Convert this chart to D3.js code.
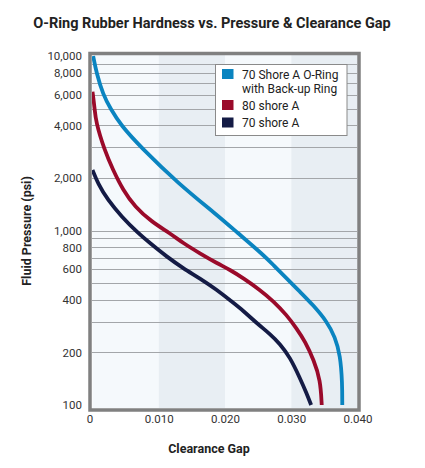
<!DOCTYPE html>
<html>
<head>
<meta charset="utf-8">
<script src="https://cdn.jsdelivr.net/npm/d3@7"></script>
<style>
  html, body { margin: 0; padding: 0; background: #fff; }
  svg { display: block; font-family: Roboto, "Noto Sans", sans-serif; }
</style>
</head>
<body>
<div id="chart"></div>
<script>
'use strict';

// Chart data
var seriesNames = ['70 Shore A O-Ring|with Back-up Ring', '80 shore A', '70 shore A'];
var seriesColors = ['#0a84c0', '#9a0a2a', '#141b45'];

// 70 Shore A O-Ring with Back-up Ring
var backupGap = [0.0001, 0.0006, 0.0016, 0.0027, 0.0043, 0.0073, 0.0129, 0.0188, 0.0217, 0.0258, 0.0273, 0.0293, 0.0313, 0.0333, 0.0354, 0.0366, 0.0374, 0.0377, 0.0377];
var backupPressure = [10000, 8000, 6000, 5000, 4000, 3000, 1865, 1227, 984, 724, 634, 532, 446, 374, 300, 246, 193, 134, 100];

// 80 shore A
var shore80Gap = [0.0000, 0.0003, 0.0005, 0.0018, 0.0031, 0.0046, 0.0064, 0.0089, 0.0117, 0.0137, 0.0162, 0.0188, 0.0208, 0.0228, 0.0253, 0.0273, 0.0293, 0.0308, 0.0321, 0.0334, 0.0344, 0.0346];
var shore80Pressure = [6237, 5103, 4185, 2893, 2222, 1707, 1369, 1123, 964, 845, 740, 649, 594, 532, 456, 394, 328, 275, 231, 181, 139, 100];

// 70 shore A
var shore70Gap = [0.0000, 0.0008, 0.0023, 0.0044, 0.0069, 0.0087, 0.0112, 0.0137, 0.0162, 0.0188, 0.0208, 0.0228, 0.0248, 0.0268, 0.0283, 0.0298, 0.0313, 0.0323, 0.0330];
var shore70Pressure = [2222, 1865, 1496, 1200, 964, 845, 708, 607, 532, 456, 397, 346, 294, 255, 224, 188, 143, 117, 100];

var yTickValues = [100, 200, 400, 600, 800, 1000, 2000, 4000, 6000, 8000, 10000];
var yGridValues = [200, 300, 400, 500, 600, 700, 800, 900, 1000, 2000, 3000, 4000, 5000, 6000, 7000, 8000, 9000];
var xTickValues = [0, 0.010, 0.020, 0.030, 0.040];
var bandStarts = [0, 0.010, 0.020, 0.030];

(function () {
  var width = 425, height = 468;
  var plot = { left: 92, right: 357, top: 55, bottom: 408 };

  var svg = d3.select('#chart').append('svg')
    .attr('width', width)
    .attr('height', height);

  var x = d3.scaleLinear().domain([0, 0.040]).range([92.5, 357.5]);
  var y = d3.scaleLog().domain([100, 10000]).range([405, 56]);

  // Alternating background bands
  svg.append('g').selectAll('rect')
    .data(bandStarts)
    .enter()
    .append('rect')
    .attr('x', function (d) { return x(d); })
    .attr('y', plot.top)
    .attr('width', function (d) { return x(d + 0.010) - x(d); })
    .attr('height', plot.bottom - plot.top)
    .attr('fill', function (d, i) { return i % 2 === 0 ? '#f5f9fc' : '#e8eef3'; });

  // Horizontal grid lines
  svg.append('g').selectAll('line')
    .data(yGridValues)
    .enter()
    .append('line')
    .attr('x1', plot.left)
    .attr('x2', plot.right)
    .attr('y1', function (d) { return Math.round(y(d)) + 0.5; })
    .attr('y2', function (d) { return Math.round(y(d)) + 0.5; })
    .attr('stroke', '#a3a6a9')
    .attr('stroke-width', 1);

  // Curves
  svg.append('clipPath').attr('id', 'plotClip')
    .append('rect')
    .attr('x', plot.left)
    .attr('y', plot.top)
    .attr('width', plot.right - plot.left)
    .attr('height', plot.bottom - plot.top);

  var series = [
    { gap: backupGap, pressure: backupPressure },
    { gap: shore80Gap, pressure: shore80Pressure },
    { gap: shore70Gap, pressure: shore70Pressure }
  ];

  var line = d3.line()
    .x(function (d) { return x(d[0]); })
    .y(function (d) { return y(d[1]); })
    .curve(d3.curveBasis);

  svg.append('g')
    .attr('clip-path', 'url(#plotClip)')
    .selectAll('path')
    .data(series)
    .enter()
    .append('path')
    .attr('d', function (s) {
      return line(d3.zip(s.gap, s.pressure));
    })
    .attr('fill', 'none')
    .attr('stroke', function (d, i) { return seriesColors[i]; })
    .attr('stroke-width', 3.8)
    .attr('stroke-linejoin', 'round');

  // Frame
  svg.append('rect')
    .attr('x', 90)
    .attr('y', 53.5)
    .attr('width', 269)
    .attr('height', 356.5)
    .attr('fill', 'none')
    .attr('stroke', '#808080')
    .attr('stroke-width', 3.5);

  // Y axis
  var yAxis = d3.axisLeft(y)
    .tickValues(yTickValues)
    .tickFormat(d3.format(','))
    .tickSize(0)
    .tickPadding(0);

  var yg = svg.append('g')
    .attr('transform', 'translate(82,0)')
    .call(yAxis);
  yg.select('.domain').remove();
  yg.selectAll('text')
    .attr('font-family', 'Roboto, sans-serif')
    .attr('font-size', 11.5)
    .attr('fill', '#333');

  // X axis
  var xAxis = d3.axisBottom(x)
    .tickValues(xTickValues)
    .tickFormat(function (d) { return d === 0 ? '0' : d3.format('.3f')(d); })
    .tickSize(0)
    .tickPadding(0);

  var xg = svg.append('g')
    .attr('transform', 'translate(0,415)')
    .call(xAxis);
  xg.select('.domain').remove();
  xg.selectAll('text')
    .attr('font-family', 'Roboto, sans-serif')
    .attr('font-size', 11.5)
    .attr('fill', '#333')
    .attr('dx', function (d) { return d === 0 ? -3 : 0; });

  // Title
  svg.append('text')
    .text('O-Ring Rubber Hardness vs. Pressure & Clearance Gap')
    .attr('x', 212)
    .attr('y', 28)
    .attr('text-anchor', 'middle')
    .attr('font-size', 14.5)
    .attr('font-weight', 'bold')
    .attr('fill', '#222');

  // Axis titles
  svg.append('text')
    .text('Clearance Gap')
    .attr('x', 209)
    .attr('y', 453)
    .attr('text-anchor', 'middle')
    .attr('font-size', 12.5)
    .attr('font-weight', 'bold')
    .attr('fill', '#222');

  svg.append('text')
    .text('Fluid Pressure (psi)')
    .attr('transform', 'translate(31,231) rotate(-90)')
    .attr('text-anchor', 'middle')
    .attr('font-size', 12.5)
    .attr('font-weight', 'bold')
    .attr('fill', '#222');

  // Legend
  var legend = svg.append('g');
  legend.append('rect')
    .attr('x', 215.5)
    .attr('y', 64.5)
    .attr('width', 131.5)
    .attr('height', 71)
    .attr('fill', '#fff')
    .attr('stroke', '#8a8a8a')
    .attr('stroke-width', 1);

  var legendRows = [69, 100, 117.5];
  var entries = legend.selectAll('g.entry')
    .data(seriesNames)
    .enter()
    .append('g')
    .attr('class', 'entry')
    .attr('transform', function (d, i) { return 'translate(222,' + legendRows[i] + ')'; });

  entries.append('rect')
    .attr('width', 11.5)
    .attr('height', 10)
    .attr('fill', function (d, i) { return seriesColors[i]; });

  entries.append('text')
    .attr('x', 20)
    .attr('y', 9.5)
    .attr('font-size', 12)
    .attr('fill', '#222')
    .selectAll('tspan')
    .data(function (d) { return d.split('|'); })
    .enter()
    .append('tspan')
    .attr('x', 20)
    .attr('dy', function (d, i) { return i === 0 ? 0 : 14.5; })
    .text(function (d) { return d; });
})();
</script>
</body>
</html>
